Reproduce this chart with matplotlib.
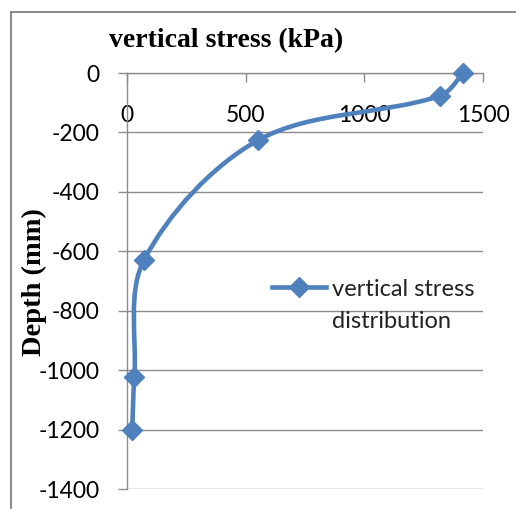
import matplotlib
matplotlib.use("Agg")
import matplotlib.pyplot as plt
from matplotlib.path import Path
from matplotlib.patches import PathPatch, Rectangle
from matplotlib.lines import Line2D
import numpy as np

plt.rcParams["axes.unicode_minus"] = False

# data
stress = [1417, 1319, 553, 72, 31, 22]
depth = [0, -77, -226, -629, -1022, -1202]
xticks = [0, 500, 1000, 1500]
yticks = [0, -200, -400, -600, -800, -1000, -1200, -1400]
series_label = "vertical stress\ndistribution"

W, H = 516, 509
fig = plt.figure(figsize=(W / 100, H / 100), dpi=100)
L, R, T, B = 127, 483, 73, 489
ax = fig.add_axes([L / W, 1 - B / H, (R - L) / W, (B - T) / H])
ax.set_xlim(0, 1500)
ax.set_ylim(-1400, 0)

blue = "#4F81BD"
grid = "#8C8C8C"

# Excel-like smoothed line: cubic Bezier segments, arms scaled by segment length
sx = (R - L) / 1500.0
sy = (B - T) / 1400.0
P = np.column_stack([np.asarray(stress, float) * sx, np.asarray(depth, float) * sy])
n = len(P)
d = np.hypot(*np.diff(P, axis=0).T)
verts = [P[0]]
codes = [Path.MOVETO]
for i in range(n - 1):
    if i == 0:
        c1 = P[0] + (P[1] - P[0]) / 6
    else:
        c1 = P[i] + (P[i + 1] - P[i - 1]) * (d[i] / (d[i - 1] + d[i])) / 3
    if i + 2 >= n:
        c2 = P[i + 1] - (P[i + 1] - P[i]) / 6
    else:
        c2 = P[i + 1] - (P[i + 2] - P[i]) * (d[i] / (d[i] + d[i + 1])) / 3
    verts += [c1, c2, P[i + 1]]
    codes += [Path.CURVE4] * 3
verts = np.array(verts) / np.array([sx, sy])
ax.add_patch(PathPatch(Path(verts, codes), facecolor="none", edgecolor=blue,
                       lw=3.3, capstyle="round", joinstyle="round", zorder=3))
ax.plot(stress, depth, ls="none", marker="D", ms=10, color=blue,
        markeredgecolor=blue, zorder=4, clip_on=False)

ax.set_xticks(xticks)
ax.set_yticks(yticks)
for s in ["bottom", "right"]:
    ax.spines[s].set_visible(False)
for s in ["left", "top"]:
    ax.spines[s].set_color(grid)
    ax.spines[s].set_linewidth(1)
ax.yaxis.grid(True, color=grid, lw=1)
ax.set_axisbelow(True)

tickfont = "Lato"
ax.xaxis.tick_top()
ax.tick_params(axis="x", direction="in", length=6.5, color=grid, width=1,
               pad=-38, labelsize=16.5)
ax.tick_params(axis="y", direction="out", length=6.5, color=grid, width=1,
               pad=13, labelsize=16.5)
for lab in ax.get_xticklabels() + ax.get_yticklabels():
    lab.set_family(tickfont)

ax.set_title("vertical stress (kPa)", fontfamily="Liberation Serif",
             fontweight="bold", fontsize=20, x=(226.5 - L) / (R - L),
             y=(B - 55) / (B - T), va="baseline")
ax.set_ylabel("Depth (mm)", fontfamily="Liberation Serif", fontweight="bold",
              fontsize=20.5)
ax.yaxis.set_label_coords((47 - L) / (R - L), (B - 282) / (B - T))

handle = Line2D([], [], color=blue, lw=3.3, marker="D", ms=10)
leg = ax.legend([handle], [series_label], loc="upper left",
                bbox_to_anchor=((273 - 8) / W, 1 - 272 / H),
                bbox_transform=fig.transFigure, frameon=False,
                prop={"family": tickfont, "size": 17},
                handlelength=2.3, handletextpad=0.25, borderpad=0.3,
                borderaxespad=0)
for t in leg.get_texts():
    t.set_linespacing(1.62)
    t.set_color("#222222")
lh = leg.legend_handles[0]
lh.set_ydata(np.asarray(lh.get_ydata()) + 13.5)

fig.add_artist(Rectangle((11 / W, -0.05), 1.2, 1 - 12 / H + 0.05,
                         transform=fig.transFigure, fill=False,
                         edgecolor="#8C8C8C", lw=1.5))

fig.savefig("out.png", dpi=100)
